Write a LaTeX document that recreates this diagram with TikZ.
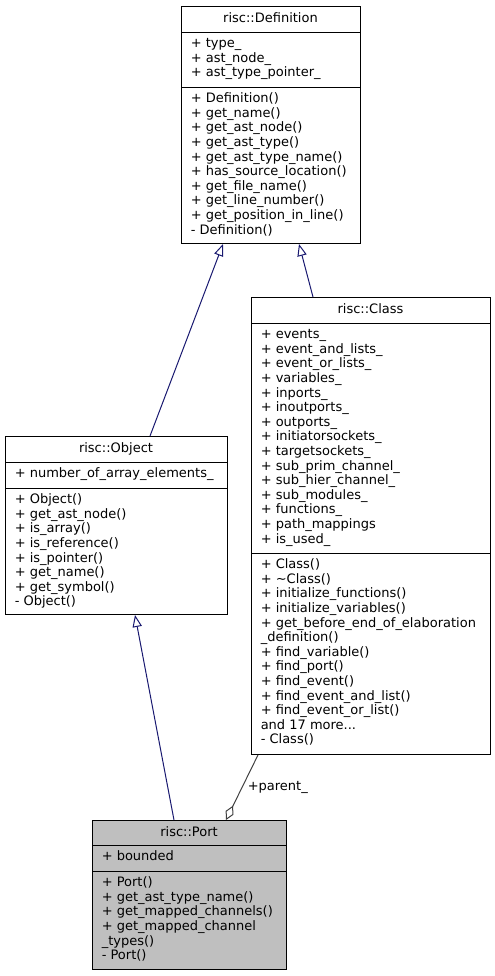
\documentclass[tikz,border=0pt]{standalone}
\usepackage{fontspec}
\setmainfont{DejaVu Sans}
\usepackage{xcolor}
\usetikzlibrary{positioning}
\usetikzlibrary{arrows.meta}
\usetikzlibrary{calc}

\definecolor{midnight}{HTML}{191970}
\definecolor{usegrey}{HTML}{404040}
\definecolor{current}{HTML}{BFBFBF}

\tikzset{
	classbox/.style={draw=black, line width=0.75pt, fill=white, inner sep=0pt, anchor=north west},
	member/.style={anchor=base west, inner sep=0pt, font=\fontsize{9.75}{11}\selectfont},
	classname/.style={anchor=base, inner sep=0pt, font=\fontsize{9.75}{11}\selectfont},
	inherit/.style={draw=midnight, line width=0.75pt, -{Triangle[open, length=9pt, width=7pt, fill=white]}},
	aggregate/.style={draw=usegrey, line width=0.75pt, {Diamond[open, length=12pt, width=6.5pt, fill=white]}-},
}

\begin{document}
\begin{tikzpicture}[x=0.75pt, y=-0.75pt]
		\useasboundingbox (0,0) rectangle (495,976);

		% Class boxes
		\node[classbox, minimum width=134.25pt, minimum height=177.75pt] (definition) at (181,6) {};
		\node[classbox, minimum width=166.5pt, minimum height=133.5pt] (object) at (5,436) {};
		\node[classbox, minimum width=179.25pt, minimum height=342.75pt] (class) at (251,297) {};
		\node[classbox, fill=current, minimum width=145.5pt, minimum height=111.75pt] (port) at (92,820) {};

		% Compartment lines
		\draw[line width=0.75pt] (181,32) -- (360,32) (181,87) -- (360,87);
		\draw[line width=0.75pt] (5,462) -- (227,462) (5,488) -- (227,488);
		\draw[line width=0.75pt] (251,323) -- (490,323) (251,553) -- (490,553);
		\draw[line width=0.75pt] (92,845) -- (286,845) (92,871) -- (286,871);

		% Titles
		\node[classname] (definitiontitle) at (270.5,22.5) {risc::Definition};
		\node[classname] (objecttitle) at (116,452.5) {risc::Object};
		\node[classname] (classtitle) at (370.5,313.5) {risc::Class};
		\node[classname] (porttitle) at (189,836.5) {risc::Port};

		% risc::Definition
		\foreach \m [count=\i] in {+ type\_, + ast\_node\_, + ast\_type\_pointer\_}
			\node[member] (defattr\i) at (190.5, {47.7+(\i-1)*14.6}) {\m};
		\foreach \m [count=\i] in {+ Definition(), + get\_name(), + get\_ast\_node(),
				+ get\_ast\_type(), + get\_ast\_type\_name(), + has\_source\_location(),
				+ get\_file\_name(), + get\_line\_number(), + get\_position\_in\_line(),
				- Definition()}
			\node[member] (defop\i) at (190.5, {102.7+(\i-1)*14.6}) {\m};

		% risc::Object
		\node[member] (objattr1) at (14.5,477.7) {+ number\_of\_array\_elements\_};
		\foreach \m [count=\i] in {+ Object(), + get\_ast\_node(), + is\_array(),
				+ is\_reference(), + is\_pointer(), + get\_name(), + get\_symbol(),
				- Object()}
			\node[member] (objop\i) at (14.5, {503.7+(\i-1)*14.6}) {\m};

		% risc::Class
		\foreach \m [count=\i] in {+ events\_, + event\_and\_lists\_, + event\_or\_lists\_,
				+ variables\_, + inports\_, + inoutports\_, + outports\_,
				+ initiatorsockets\_, + targetsockets\_, + sub\_prim\_channel\_,
				+ sub\_hier\_channel\_, + sub\_modules\_, + functions\_,
				+ path\_mappings, + is\_used\_}
			\node[member] (clsattr\i) at (260.5, {338.7+(\i-1)*14.6}) {\m};
		\foreach \m [count=\i] in {+ Class(), + \textasciitilde Class(),
				+ initialize\_functions(), + initialize\_variables(),
				+ get\_before\_end\_of\_elaboration, \_definition(),
				+ find\_variable(), + find\_port(), + find\_event(),
				+ find\_event\_and\_list(), + find\_event\_or\_list(),
				and 17 more.{}.{}., - Class()}
			\node[member] (clsop\i) at (260.5, {568.7+(\i-1)*14.6}) {\m};

		% risc::Port
		\node[member] (portattr1) at (101.5,860.7) {+ bounded};
		\foreach \m [count=\i] in {+ Port(), + get\_ast\_type\_name(),
				+ get\_mapped\_channels(), + get\_mapped\_channel, \_types(), - Port()}
			\node[member] (portop\i) at (101.5, {886.7+(\i-1)*14.6}) {\m};

		% Inheritance
		\draw[inherit] ($(object.north west)+(145,0)$) -- ($(definition.south west)+(42,0)$);
		\draw[inherit] ($(class.north west)+(62,0)$) -- ($(definition.south west)+(118,0)$);
		\draw[inherit] ($(port.north west)+(82,0)$) -- ($(object.south west)+(130,0)$);

		% Aggregation
		\draw[aggregate] ($(port.north west)+(134,0)$) -- ($(class.south west)+(7,0)$);
		\node[member] (parentlabel) at (247.5,790) {+parent\_};
	\end{tikzpicture}
\end{document}
